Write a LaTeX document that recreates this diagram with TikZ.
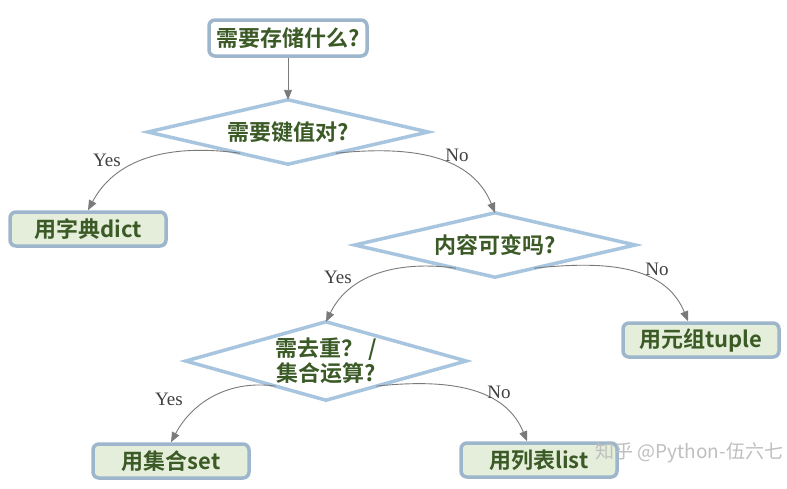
\documentclass[tikz,border=0pt]{standalone}
\usepackage{fontspec}
\newfontfamily\cjk{Noto Sans CJK SC}
\newfontfamily\cjkb{Noto Sans CJK SC Bold}
\setmainfont{Liberation Serif}
\usetikzlibrary{arrows.meta,calc,backgrounds}
\definecolor{txtgreen}{HTML}{3B5A26}
\definecolor{boxfill}{HTML}{E4EEDA}
\definecolor{boxline}{HTML}{9DB6CB}
\definecolor{diaLine}{HTML}{A8C5DF}
\definecolor{arrgray}{HTML}{7A7A7A}
\tikzset{
  x=1pt,y=1pt,
  lbl/.style={font=\cjkb\fontsize{22}{25}\selectfont, text=txtgreen, align=center},
  topbox/.style={lbl, draw=boxline, line width=3.5pt, fill=white, rounded corners=6pt, minimum width=158pt, minimum height=36pt, inner sep=0pt},
  leafbox/.style={lbl, draw=boxline, line width=3.5pt, fill=boxfill, rounded corners=6pt, minimum width=156pt, minimum height=34pt, inner sep=0pt},
  decision/.style={lbl, inner sep=0pt, minimum width=#1, minimum height=64pt},
  diapath/.style={draw=diaLine, line width=3.5pt, fill=white, line join=miter},
  arr/.style={draw=arrgray, line width=0.9pt, -{Triangle[length=10pt,width=8pt]}},
  yn/.style={font=\fontsize{19}{22}\selectfont, text=black!75}
}
\begin{document}
\begin{tikzpicture}
\useasboundingbox (0,0) rectangle (787,-488);

\node[topbox] (top) at (288,-38) {需要存储什么?};
\node[decision=280pt] (d1) at (288,-132) {需要键值对?};
\node[leafbox] (dict) at (88,-229) {用字典dict};
\node[decision=280pt] (d2) at (495,-245) {内容可变吗?};
\node[leafbox] (tuple) at (701,-340) {用元组tuple};
\node[decision=280pt, minimum height=78pt] (d3) at (326,-361) {需去重？ /\\集合运算?};
\node[leafbox] (set) at (171,-461) {用集合set};
\node[leafbox] (list) at (539,-460) {用列表list};

\begin{scope}[on background layer]
\fill[white] (0,0) rectangle (787,-488);
\foreach \d in {d1,d2,d3}
  \path[diapath] (\d.north) -- (\d.east) -- (\d.south) -- (\d.west) -- cycle;
\end{scope}

\draw[arr] (top.south) -- (d1.north);

\coordinate (d1y) at ($(d1.south)!0.34!(d1.west)$);
\coordinate (d1n) at ($(d1.south)!0.34!(d1.east)$);
\coordinate (d2y) at ($(d2.south)!0.28!(d2.west)$);
\coordinate (d2n) at ($(d2.south)!0.28!(d2.east)$);
\coordinate (d3y) at ($(d3.south)!0.36!(d3.west)$);
\coordinate (d3n) at ($(d3.south)!0.36!(d3.east)$);

\draw[arr] (d1y) to[out=172,in=62] (dict.north);
\draw[arr] (d1n) to[out=6,in=112] (d2.north);
\draw[arr] (d2y) to[out=172,in=64] (d3.north);
\draw[arr] (d2n) to[out=6,in=112] ([xshift=-13pt]tuple.north);
\draw[arr] (d3y) to[out=172,in=62] (set.north);
\draw[arr] (d3n) to[out=6,in=112] ([xshift=-12pt]list.north);

\node[yn] (y1) at (107,-160) {Yes};
\node[yn] (n1) at (457,-155) {No};
\node[yn] (y2) at (338,-277) {Yes};
\node[yn] (n2) at (657,-269) {No};
\node[yn] (y3) at (169,-399) {Yes};
\node[yn] (n3) at (499,-392) {No};

\node[font=\cjk\fontsize{19}{22}\selectfont, text=gray!50, anchor=west] (wm) at (592,-453) {知乎 @Python-伍六七};
\end{tikzpicture}
\end{document}
